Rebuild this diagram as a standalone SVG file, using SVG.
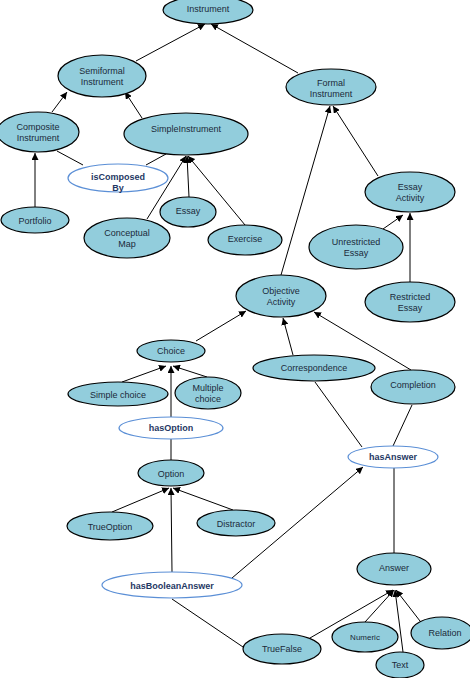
<svg xmlns="http://www.w3.org/2000/svg" width="470" height="678" viewBox="0 0 470 678">
<defs>
<marker id="ah" viewBox="0 0 10 10" refX="10" refY="5" markerWidth="7" markerHeight="7" markerUnits="userSpaceOnUse" orient="auto">
<path d="M0,0 L10,5 L0,10 z" fill="#000"/>
</marker>
<style>
.n ellipse{fill:#92cddc;stroke:#000;stroke-width:1.2}
.r ellipse{fill:#fff;stroke:#5b8fd6;stroke-width:1.2}
text{font-family:"Liberation Sans",Arial,sans-serif;font-size:9px;text-anchor:middle}
.n text{fill:#1b2a3a}
.r text{fill:#1f3864;font-weight:bold}
#edges line{stroke:#000;stroke-width:1}
#edges .a{marker-end:url(#ah)}
</style>
</defs>
<rect width="470" height="678" fill="#fff"/>
<g id="edges">
<line class="a" x1="136" y1="61" x2="205" y2="24"/>
<line class="a" x1="298" y1="73" x2="211" y2="24"/>
<line class="a" x1="52" y1="112" x2="67" y2="92"/>
<line class="a" x1="142" y1="118" x2="125" y2="92"/>
<line class="a" x1="35" y1="207" x2="35" y2="153"/>
<line x1="57" y1="151" x2="83" y2="165"/>
<line x1="146" y1="165" x2="166" y2="154"/>
<line class="a" x1="147" y1="219" x2="186" y2="156"/>
<line class="a" x1="189" y1="197" x2="187" y2="156"/>
<line class="a" x1="245" y1="225" x2="188" y2="156"/>
<line class="a" x1="281" y1="275" x2="330" y2="106"/>
<line class="a" x1="378" y1="176" x2="333" y2="106"/>
<line class="a" x1="383" y1="229" x2="403" y2="215"/>
<line class="a" x1="410" y1="282" x2="410" y2="213"/>
<line class="a" x1="196" y1="341" x2="246" y2="311"/>
<line class="a" x1="293" y1="355" x2="283" y2="318"/>
<line class="a" x1="411" y1="370" x2="314" y2="312"/>
<line class="a" x1="122" y1="382" x2="166" y2="366"/>
<line class="a" x1="207" y1="377" x2="173" y2="366"/>
<line class="a" x1="171" y1="417" x2="171" y2="366"/>
<line x1="171" y1="461" x2="171" y2="439"/>
<line x1="315" y1="382" x2="362" y2="447"/>
<line x1="412" y1="405" x2="393" y2="446"/>
<line x1="394" y1="553" x2="394" y2="468"/>
<line class="a" x1="112" y1="512" x2="169" y2="488"/>
<line class="a" x1="233" y1="510" x2="173" y2="488"/>
<line class="a" x1="172" y1="572" x2="171" y2="488"/>
<line class="a" x1="232" y1="578" x2="363" y2="467"/>
<line x1="172" y1="599" x2="243" y2="647"/>
<line class="a" x1="310" y1="638" x2="393" y2="590"/>
<line class="a" x1="365" y1="622" x2="394" y2="590"/>
<line class="a" x1="403" y1="652" x2="395" y2="590"/>
<line class="a" x1="420" y1="621" x2="396" y2="590"/>
</g>
<g id="instrument" class="n"><ellipse cx="208" cy="10" rx="45" ry="14"/><text x="208" y="12">Instrument</text></g>
<g id="semiformal" class="n"><ellipse cx="102" cy="76" rx="44" ry="21"/><text x="102" y="74">Semiformal</text><text x="102" y="84.5">Instrument</text></g>
<g id="formal" class="n"><ellipse cx="331" cy="87" rx="45" ry="18"/><text x="331" y="86">Formal</text><text x="331" y="96.5">Instrument</text></g>
<g id="composite" class="n"><ellipse cx="38" cy="132" rx="41" ry="20"/><text x="38" y="130">Composite</text><text x="38" y="140.5">Instrument</text></g>
<g id="simple" class="n"><ellipse cx="186" cy="134" rx="62" ry="21"/><text x="186" y="132">SimpleInstrument</text></g>
<g id="isComposedBy" class="r"><ellipse cx="118" cy="178" rx="50" ry="14"/><text x="118" y="180">isComposed</text><text x="118" y="191">By</text></g>
<g id="portfolio" class="n"><ellipse cx="35" cy="220" rx="34" ry="13"/><text x="35" y="224">Portfolio</text></g>
<g id="conceptual" class="n"><ellipse cx="127" cy="238" rx="43" ry="20"/><text x="127" y="236">Conceptual</text><text x="127" y="246.5">Map</text></g>
<g id="essay" class="n"><ellipse cx="188" cy="212" rx="28" ry="15"/><text x="188" y="214">Essay</text></g>
<g id="exercise" class="n"><ellipse cx="245" cy="240" rx="37" ry="15"/><text x="245" y="242">Exercise</text></g>
<g id="essayActivity" class="n"><ellipse cx="410" cy="192" rx="45" ry="20"/><text x="410" y="190">Essay</text><text x="410" y="200.5">Activity</text></g>
<g id="unrestricted" class="n"><ellipse cx="356" cy="247" rx="47" ry="22"/><text x="356" y="245">Unrestricted</text><text x="356" y="255.5">Essay</text></g>
<g id="restricted" class="n"><ellipse cx="410" cy="302" rx="45" ry="20"/><text x="410" y="300">Restricted</text><text x="410" y="310.5">Essay</text></g>
<g id="objective" class="n"><ellipse cx="281" cy="296" rx="45" ry="21"/><text x="281" y="294">Objective</text><text x="281" y="304.5">Activity</text></g>
<g id="choice" class="n"><ellipse cx="171" cy="351" rx="34" ry="11"/><text x="171" y="354">Choice</text></g>
<g id="simpleChoice" class="n"><ellipse cx="118" cy="394" rx="50" ry="12"/><text x="118" y="398">Simple choice</text></g>
<g id="multipleChoice" class="n"><ellipse cx="208" cy="393" rx="33" ry="16"/><text x="208" y="391">Multiple</text><text x="208" y="401.5">choice</text></g>
<g id="hasOption" class="r"><ellipse cx="171" cy="428" rx="52" ry="11"/><text x="171" y="431">hasOption</text></g>
<g id="correspondence" class="n"><ellipse cx="314" cy="368" rx="61" ry="13"/><text x="314" y="371">Correspondence</text></g>
<g id="completion" class="n"><ellipse cx="413" cy="387" rx="42" ry="17"/><text x="413" y="388">Completion</text></g>
<g id="hasAnswer" class="r"><ellipse cx="393" cy="457" rx="45" ry="11"/><text x="393" y="460">hasAnswer</text></g>
<g id="option" class="n"><ellipse cx="171" cy="473" rx="33" ry="13"/><text x="171" y="477">Option</text></g>
<g id="trueOption" class="n"><ellipse cx="110" cy="526" rx="43" ry="14"/><text x="110" y="530">TrueOption</text></g>
<g id="distractor" class="n"><ellipse cx="236" cy="523" rx="39" ry="13"/><text x="236" y="527">Distractor</text></g>
<g id="hasBooleanAnswer" class="r"><ellipse cx="172" cy="585" rx="70" ry="13"/><text x="172" y="589">hasBooleanAnswer</text></g>
<g id="answer" class="n"><ellipse cx="394" cy="569" rx="37" ry="16"/><text x="394" y="571">Answer</text></g>
<g id="trueFalse" class="n"><ellipse cx="282" cy="649" rx="39" ry="15"/><text x="282" y="652">TrueFalse</text></g>
<g id="numeric" class="n"><ellipse cx="365" cy="637" rx="33" ry="15"/><text x="365" y="640" style="font-size:8px">Numeric</text></g>
<g id="relation" class="n"><ellipse cx="442" cy="633" rx="31" ry="16"/><text x="445" y="636">Relation</text></g>
<g id="text" class="n"><ellipse cx="400" cy="665" rx="24" ry="13"/><text x="400" y="668">Text</text></g>
</svg>
